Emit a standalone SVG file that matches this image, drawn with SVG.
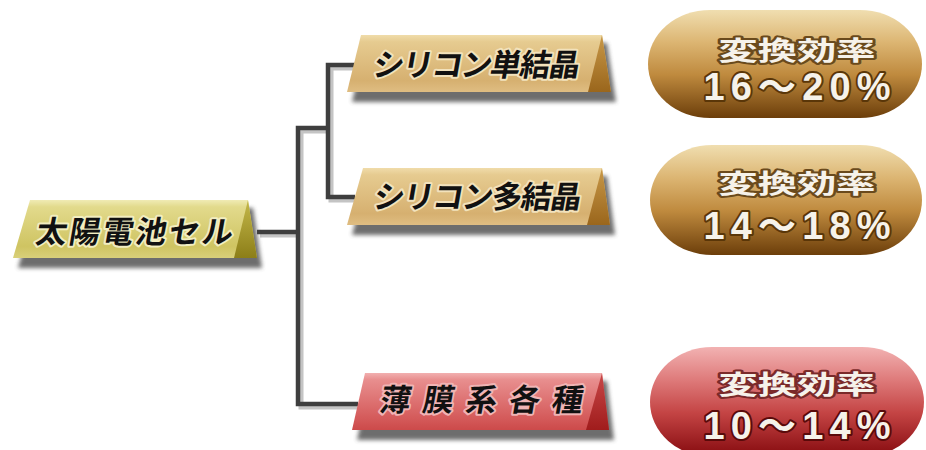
<svg xmlns="http://www.w3.org/2000/svg" width="926" height="450" viewBox="0 0 926 450">
<defs>
<style>
.conn-sh{fill:none;stroke:#c4c4c4;stroke-width:5;stroke-linejoin:miter}
.conn{fill:none;stroke:#3e3e3e;stroke-width:4.5;stroke-linejoin:miter}
.shadow{fill:#4a4a4a;opacity:.8;filter:url(#blur)}
.ntext{font-family:"Noto Sans CJK JP","Noto Sans",sans-serif;font-weight:bold;font-size:31px;fill:#111;stroke-width:4;paint-order:stroke;stroke-linejoin:round}
.ptext{font-family:"Noto Sans CJK JP","Noto Sans",sans-serif;font-weight:bold;fill:#f6f2ea;stroke-width:4;paint-order:stroke;stroke-linejoin:round;text-anchor:middle}
.kw{font-size:26px}
.num{font-size:38px;font-family:"Liberation Sans","Noto Sans CJK JP",sans-serif}
</style>
<filter id="blur" x="-10%" y="-50%" width="120%" height="200%"><feGaussianBlur stdDeviation="2"/></filter>
<linearGradient id="gY" x1="0" y1="0" x2="0" y2="1">
<stop offset="0" stop-color="#f0ebb4"/><stop offset="0.12" stop-color="#e2da8c"/><stop offset="0.8" stop-color="#cfc462"/><stop offset="1" stop-color="#d9d07a"/></linearGradient>
<linearGradient id="gYb" x1="0" y1="0" x2="0" y2="1"><stop offset="0" stop-color="#c4b84a"/><stop offset="1" stop-color="#8c7e18"/></linearGradient>
<linearGradient id="gT" x1="0" y1="0" x2="0" y2="1">
<stop offset="0" stop-color="#f0dcaa"/><stop offset="0.12" stop-color="#e6cb90"/><stop offset="0.8" stop-color="#d6b070"/><stop offset="1" stop-color="#dfbd82"/></linearGradient>
<linearGradient id="gTb" x1="0" y1="0" x2="0" y2="1"><stop offset="0" stop-color="#c89848"/><stop offset="1" stop-color="#9a661c"/></linearGradient>
<linearGradient id="gR" x1="0" y1="0" x2="0" y2="1">
<stop offset="0" stop-color="#f2b0b0"/><stop offset="0.12" stop-color="#e88e8e"/><stop offset="0.8" stop-color="#d45a5a"/><stop offset="1" stop-color="#cc4a4a"/></linearGradient>
<linearGradient id="gRb" x1="0" y1="0" x2="0" y2="1"><stop offset="0" stop-color="#c84848"/><stop offset="1" stop-color="#a01c1c"/></linearGradient>
<linearGradient id="pG" x1="0" y1="0" x2="0" y2="1">
<stop offset="0" stop-color="#f0deb0"/><stop offset="0.3" stop-color="#dcb572"/><stop offset="0.6" stop-color="#bf8a3e"/><stop offset="1" stop-color="#6c3e0a"/></linearGradient>
<linearGradient id="pR" x1="0" y1="0" x2="0" y2="1">
<stop offset="0" stop-color="#f2b2b2"/><stop offset="0.3" stop-color="#de7a7a"/><stop offset="0.6" stop-color="#c44444"/><stop offset="1" stop-color="#850a0e"/></linearGradient>
</defs>
<rect width="926" height="450" fill="#ffffff"/>

<g id="connectors">
<g transform="translate(3,3)">
<path class="conn-sh" d="M257,232 H298"/>
<path class="conn-sh" d="M328,128 H298 V404 H358"/>
<path class="conn-sh" d="M355,65 H328 V197 H355"/>
</g>
<path class="conn" d="M257,232 H298"/>
<path class="conn" d="M328,128 H298 V404 H358"/>
<path class="conn" d="M355,65 H328 V197 H355"/>
</g>

<g id="node-cell">
<polygon class="shadow" points="35,208 253,208 262,268 18,268"/>
<polygon points="30,200 248,200 257,258 13,258" fill="url(#gY)"/>
<polygon points="248,200 257,258 234,258" fill="url(#gYb)"/>
<text class="ntext" stroke="#f2edc0" text-anchor="middle" textLength="197" lengthAdjust="spacing" transform="translate(133,243) skewX(-10)">太陽電池セル</text>
</g>

<g id="node-mono">
<polygon class="shadow" points="366,43 607,43 616,102 352,102"/>
<polygon points="361,35 602,35 611,92 347,92" fill="url(#gT)"/>
<polygon points="602,35 611,92 588,92" fill="url(#gTb)"/>
<text class="ntext" stroke="#f2e2bc" text-anchor="middle" textLength="207" lengthAdjust="spacing" transform="translate(475,76) skewX(-10)">シリコン単結晶</text>
</g>

<g id="node-poly">
<polygon class="shadow" points="368,176 607,176 615,235 352,235"/>
<polygon points="363,168 602,168 610,225 347,225" fill="url(#gT)"/>
<polygon points="602,168 610,225 587,225" fill="url(#gTb)"/>
<text class="ntext" stroke="#f2e2bc" text-anchor="middle" textLength="208" lengthAdjust="spacing" transform="translate(476,208) skewX(-10)">シリコン多結晶</text>
</g>

<g id="node-thin">
<polygon class="shadow" points="370,381 607,381 614,440 357,440"/>
<polygon points="365,373 602,373 609,430 352,430" fill="url(#gR)"/>
<polygon points="602,373 609,430 586,430" fill="url(#gRb)"/>
<text class="ntext" stroke="#f0b4b4" text-anchor="middle" textLength="203" lengthAdjust="spacing" transform="translate(480,411) skewX(-10)">薄膜系各種</text>
</g>

<g id="pill-mono">
<rect x="648" y="10" width="274" height="108" rx="62" ry="54" fill="url(#pG)"/>
<text class="ptext kw" stroke="#6a4a1c" x="797" y="60" textLength="157" lengthAdjust="spacingAndGlyphs">変換効率</text>
<text class="ptext num" stroke="#5a3608" x="797" y="100" textLength="187" lengthAdjust="spacing">16～20%</text>
</g>

<g id="pill-poly">
<rect x="650" y="145" width="272" height="110" rx="62" ry="55" fill="url(#pG)"/>
<text class="ptext kw" stroke="#6a4a1c" x="797" y="193" textLength="157" lengthAdjust="spacingAndGlyphs">変換効率</text>
<text class="ptext num" stroke="#5a3608" x="797" y="239" textLength="187" lengthAdjust="spacing">14～18%</text>
</g>

<g id="pill-thin">
<rect x="650" y="347" width="274" height="110" rx="62" ry="55" fill="url(#pR)"/>
<text class="ptext kw" stroke="#7a2a2a" x="797" y="394" textLength="157" lengthAdjust="spacingAndGlyphs">変換効率</text>
<text class="ptext num" stroke="#5a0a0a" x="797" y="439" textLength="187" lengthAdjust="spacing">10～14%</text>
</g>
</svg>
